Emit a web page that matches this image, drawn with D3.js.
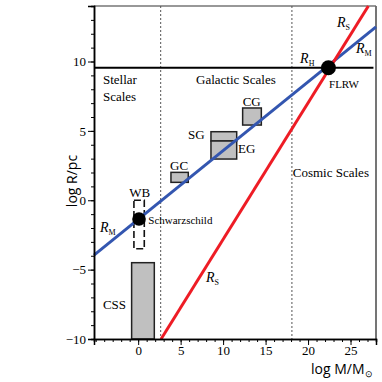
<!DOCTYPE html>
<html>
<head>
<meta charset="utf-8">
<script src="https://cdn.jsdelivr.net/npm/d3@7"></script>
<style>
  body { margin: 0; background: #fff; }
  svg { display: block; }
  .serif { font-family: "Liberation Serif", serif; }
</style>
</head>
<body>
<div id="chart"></div>
<script>
// axis ticks
var xMajor = [0, 5, 10, 15, 20, 25];
var yMajor = [-10, -5, 0, 5, 10];
var xMinor = d3.range(-5, 29, 1);
var yMinor = d3.range(-10, 15, 1);

// scale lines [log M, log R]
var lineRM = [[-5.2, -3.95], [28, 12.5]];
var lineRS = [[2.7, -10], [27.1, 14]];
var lineRH = 9.55;
var scaleDividers = [2.65, 18.1];

// object boxes: log M range, log R range
var boxes = [
  { name: "CSS", m0: -0.77, m1: 1.9, r0: -10, r1: -4.5 },
  { name: "GC", m0: 3.86, m1: 5.9, r0: 1.29, r1: 2.01 },
  { name: "SG", m0: 8.57, m1: 11.6, r0: 4.27, r1: 4.94 },
  { name: "EG", m0: 8.57, m1: 11.6, r0: 2.97, r1: 4.27 },
  { name: "CG", m0: 12.3, m1: 14.5, r0: 5.42, r1: 6.65 }
];
var wideBinary = { m0: -0.5, m1: 0.72, r0: -3.5, r1: 0 };

// special points
var points = [
  { name: "Schwarzschild", m: 0.1, r: -1.35 },
  { name: "FLRW", m: 22.4, r: 9.55 }
];

// text annotations (log M, log R)
var labels = [
  { t: "Stellar", m: -4.15, r: 8.38 },
  { t: "Scales", m: -4.15, r: 7.15 },
  { t: "Galactic Scales", m: 6.81, r: 8.38 },
  { t: "Cosmic Scales", m: 18.2, r: 1.68 },
  { t: "SG", m: 5.87, r: 4.41 },
  { t: "EG", m: 11.76, r: 3.41 },
  { t: "GC", m: 3.75, r: 2.18 },
  { t: "CG", m: 12.3, r: 6.79 },
  { t: "WB", m: -1.05, r: 0.23 },
  { t: "CSS", m: -4.15, r: -7.84 },
  { t: "Schwarzschild", m: 1.19, r: -1.71, small: true },
  { t: "FLRW", m: 22.47, r: 8.09, small: true }
];
var radiusLabels = [
  { sub: "H", m: 19.06, r: 9.89 },
  { sub: "S", m: 23.4, r: 12.49 },
  { sub: "M", m: 25.65, r: 10.61 },
  { sub: "M", m: -4.5, r: -2.27 },
  { sub: "S", m: 7.99, r: -5.89 }
];

var width = 382, height = 382;
var svg = d3.select("#chart").append("svg")
  .attr("width", width).attr("height", height);

var x = d3.scaleLinear().domain([-5.2, 28]).range([94, 376]);
var y = d3.scaleLinear().domain([-10, 14]).range([339, 6]);

var serif = "Liberation Serif";

// frame top/right
svg.append("line").attr("x1", x(-5.2)).attr("x2", x(28)).attr("y1", y(14)).attr("y2", y(14))
  .attr("stroke", "#333").attr("stroke-width", 1.2);
svg.append("line").attr("x1", x(28)).attr("x2", x(28)).attr("y1", y(14)).attr("y2", y(-10))
  .attr("stroke", "#666").attr("stroke-width", 1.8);

// dotted dividers
svg.selectAll(".divider").data(scaleDividers).enter().append("line")
  .attr("x1", d => x(d)).attr("x2", d => x(d))
  .attr("y1", y(14)).attr("y2", y(-10))
  .attr("stroke", "#555").attr("stroke-width", 1)
  .attr("stroke-dasharray", "2,2");

// boxes
svg.selectAll(".box").data(boxes).enter().append("rect")
  .attr("x", d => x(d.m0)).attr("y", d => y(d.r1))
  .attr("width", d => x(d.m1) - x(d.m0))
  .attr("height", d => y(d.r0) - y(d.r1))
  .attr("fill", "#c0c0c0").attr("stroke", "#222").attr("stroke-width", 1.5);

svg.append("rect")
  .attr("x", x(wideBinary.m0)).attr("y", y(wideBinary.r1))
  .attr("width", x(wideBinary.m1) - x(wideBinary.m0))
  .attr("height", y(wideBinary.r0) - y(wideBinary.r1))
  .attr("fill", "none").attr("stroke", "#111").attr("stroke-width", 1.6)
  .attr("stroke-dasharray", "7,3");

// R_H line
svg.append("line").attr("x1", x(-5.2)).attr("x2", x(27.7))
  .attr("y1", y(lineRH)).attr("y2", y(lineRH))
  .attr("stroke", "#000").attr("stroke-width", 2);

var line = d3.line().x(d => x(d[0])).y(d => y(d[1]));
svg.append("path").datum(lineRM).attr("d", line)
  .attr("fill", "none").attr("stroke", "#3356b0").attr("stroke-width", 3);
svg.append("path").datum(lineRS).attr("d", line)
  .attr("fill", "none").attr("stroke", "#ee1c25").attr("stroke-width", 3);

// points
svg.selectAll(".pt").data(points).enter().append("circle")
  .attr("cx", d => x(d.m)).attr("cy", d => y(d.r))
  .attr("r", (d, i) => i == 0 ? 6.8 : 7.5).attr("fill", "#000");

// axes
var yAxis = d3.axisLeft(y).tickValues(yMajor).tickSize(6).tickPadding(2)
  .tickFormat(d => d < 0 ? "\u2212" + Math.abs(d) : d);
var yMinorAxis = d3.axisLeft(y).tickValues(yMinor).tickSize(3).tickFormat("");
var xAxis = d3.axisBottom(x).tickValues(xMajor).tickSize(6).tickPadding(1);
var xMinorAxis = d3.axisBottom(x).tickValues(xMinor).tickSize(3).tickFormat("");

[yMinorAxis, yAxis].forEach(a => {
  var g = svg.append("g").attr("transform", "translate(" + x(-5.2) + ",0)").call(a)
    .attr("font-family", serif).attr("font-size", 13);
  g.select(".domain").attr("stroke-width", 1.5);
  g.selectAll("text").attr("fill", "#000");
});
[xMinorAxis, xAxis].forEach(a => {
  var g = svg.append("g").attr("transform", "translate(0," + y(-10) + ")").call(a)
    .attr("font-family", serif).attr("font-size", 13);
  g.select(".domain").attr("stroke-width", 1.5);
  g.selectAll("text").attr("fill", "#000");
});

// annotations
svg.selectAll(".lbl").data(labels).enter().append("text")
  .attr("class", "serif")
  .attr("x", d => x(d.m)).attr("y", d => y(d.r))
  .style("font-size", d => d.small ? "11px" : "13px")
  .text(d => d.t);

var rl = svg.selectAll(".rl").data(radiusLabels).enter().append("text")
  .attr("class", "serif")
  .attr("x", d => x(d.m)).attr("y", d => y(d.r))
  .style("font-size", "14px");
rl.append("tspan").style("font-style", "italic").text("R");
rl.append("tspan").attr("dy", 3).style("font-size", "8px").text(d => d.sub);

// axis titles
svg.append("text")
  .attr("transform", "translate(77," + 181 + ") rotate(-90)")
  .attr("text-anchor", "middle")
  .style("font-family", "'Open Sans', sans-serif").style("font-size", "14px")
  .text("log R/pc");
var xt = svg.append("text").attr("x", 311).attr("y", 374)
  .style("font-family", "'Open Sans', sans-serif").style("font-size", "14px");
xt.append("tspan").text("log M/M");
xt.append("tspan").attr("dy", 3).style("font-size", "9px").text("\u2299");
</script>
</body>
</html>
